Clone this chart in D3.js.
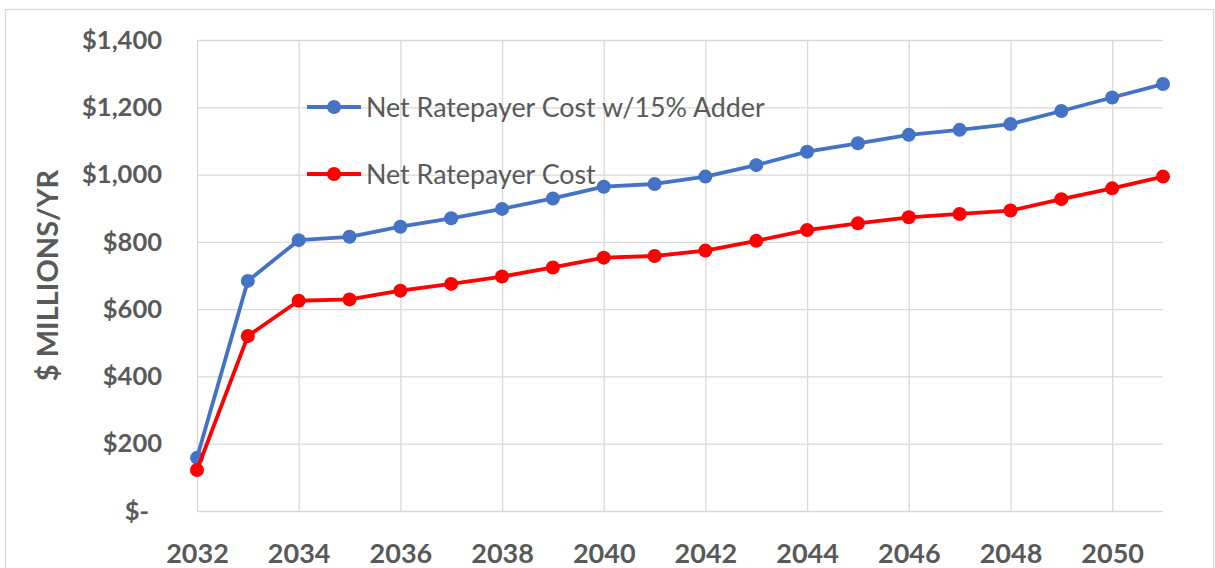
<!DOCTYPE html>
<html>
<head>
<meta charset="utf-8">
<script src="https://cdn.jsdelivr.net/npm/d3@7"></script>
<style>
  body { margin: 0; background: #fff; }
  svg { display: block; }
  text { font-family: Lato, "Open Sans", sans-serif; fill: #595959; }
</style>
</head>
<body>
<div id="chart"></div>
<script>
// Jahre und Werte ($ Mio. / Jahr)
const years = [2032, 2033, 2034, 2035, 2036, 2037, 2038, 2039, 2040, 2041,
               2042, 2043, 2044, 2045, 2046, 2047, 2048, 2049, 2050, 2051];
const costWithAdder = [158, 684, 805, 815, 845, 870, 898, 929, 964, 972,
                       994, 1028, 1068, 1093, 1118, 1133, 1150, 1189, 1229, 1269];
const netCost = [122, 520, 625, 629, 655, 675, 697, 724, 753, 758,
                 774, 803, 835, 855, 873, 883, 893, 927, 959, 994];
const yTicks = [0, 200, 400, 600, 800, 1000, 1200, 1400];
const xTicks = [2032, 2034, 2036, 2038, 2040, 2042, 2044, 2046, 2048, 2050];
const seriesNames = ["Net Ratepayer Cost w/15% Adder", "Net Ratepayer Cost"];
const seriesColors = ["#4472C4", "#FF0000"];

const width = 1215, height = 568;
const plot = { left: 197, right: 1163, top: 40, bottom: 511 };

const svg = d3.select("#chart").append("svg")
  .attr("width", width)
  .attr("height", height);

// Rahmen um das Diagramm
svg.append("rect")
  .attr("x", 5.5).attr("y", 9.5)
  .attr("width", 1208).attr("height", 620)
  .attr("fill", "none")
  .attr("stroke", "#d9d9d9")
  .attr("stroke-width", 1.3);

const x = d3.scaleLinear()
  .domain([2032, 2051])
  .range([plot.left, plot.right]);

const y = d3.scaleLinear()
  .domain([0, 1400])
  .range([plot.bottom, plot.top]);

// y-Achse mit Gitterlinien
const yAxis = svg.append("g")
  .attr("transform", `translate(${plot.left},0)`)
  .call(d3.axisLeft(y)
    .tickValues(yTicks)
    .tickSize(-(plot.right - plot.left))
    .tickPadding(35)
    .tickFormat(d => d === 0 ? "$-" : "$" + d3.format(",")(d)));
yAxis.select(".domain").remove();
yAxis.selectAll("line").attr("stroke", "#d9d9d9").attr("stroke-width", 1.3);
yAxis.selectAll("text")
  .style("font-size", "25.5px")
  .style("font-weight", "bold")
  .attr("fill", "#595959")
  .attr("dx", d => d === 0 ? -13 : 0);

// x-Achse mit Gitterlinien
const xAxis = svg.append("g")
  .attr("transform", `translate(0,${plot.bottom})`)
  .call(d3.axisBottom(x)
    .tickValues(xTicks)
    .tickSize(-(plot.bottom - plot.top))
    .tickPadding(33)
    .tickFormat(d => d));
xAxis.select(".domain").remove();
xAxis.selectAll("line").attr("stroke", "#d9d9d9").attr("stroke-width", 1.3);
xAxis.selectAll("text")
  .style("font-size", "27px")
  .style("font-weight", "bold")
  .attr("fill", "#595959");

// Achsentitel
svg.append("text")
  .attr("transform", `translate(58,${(plot.top + plot.bottom) / 2}) rotate(-90)`)
  .attr("text-anchor", "middle")
  .style("font-size", "29px")
  .style("font-weight", "bold")
  .text("$ MILLIONS/YR");

// Legende
const legend = svg.append("g");
const legendY = [107, 174];
seriesNames.forEach((name, i) => {
  const g = legend.append("g").attr("transform", `translate(307,${legendY[i]})`);
  g.append("line")
    .attr("x1", 0).attr("x2", 54)
    .attr("stroke", seriesColors[i])
    .attr("stroke-width", 3.8);
  g.append("circle")
    .attr("cx", 27).attr("r", 7)
    .attr("fill", seriesColors[i]);
  g.append("text")
    .attr("x", 59)
    .attr("dy", "0.36em")
    .style("font-size", "26.8px")
    .text(name);
});

// Linien und Punkte
const series = [costWithAdder, netCost];
const line = d3.line()
  .x((d, i) => x(years[i]))
  .y(d => y(d));

series.forEach((values, s) => {
  svg.append("path")
    .datum(values)
    .attr("fill", "none")
    .attr("stroke", seriesColors[s])
    .attr("stroke-width", 3.8)
    .attr("stroke-linejoin", "round")
    .attr("d", line);

  svg.append("g")
    .selectAll("circle")
    .data(values)
    .enter()
    .append("circle")
    .attr("cx", (d, i) => x(years[i]))
    .attr("cy", d => y(d))
    .attr("r", 7)
    .attr("fill", seriesColors[s]);
});
</script>
</body>
</html>
